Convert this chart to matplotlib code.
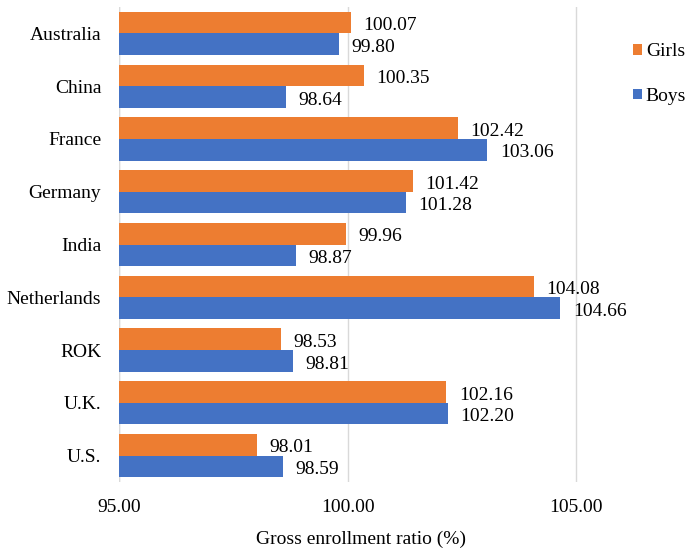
import matplotlib
matplotlib.use("Agg")
import matplotlib.pyplot as plt
import numpy as np

countries = ["Australia", "China", "France", "Germany", "India",
             "Netherlands", "ROK", "U.K.", "U.S."]
girls = [100.07, 100.35, 102.42, 101.42, 99.96, 104.08, 98.53, 102.16, 98.01]
boys = [99.80, 98.64, 103.06, 101.28, 98.87, 104.66, 98.81, 102.20, 98.59]
x_ticks = [95, 100, 105]

GIRLS_COLOR = "#ED7D31"
BOYS_COLOR = "#4472C4"

plt.rcParams["font.family"] = ["Liberation Serif", "DejaVu Serif"]
plt.rcParams["font.size"] = 14

fig = plt.figure(figsize=(6.87, 5.51), dpi=100)
left, right = 119.4 / 687, 602 / 687
ax = fig.add_axes([left, 0.1252, right - left, 0.9873 - 0.1252])

base = 95.0
y = np.arange(len(countries))
h = 0.41

g_bars = ax.barh(y - h / 2, np.array(girls) - base, height=h, left=base,
                 color=GIRLS_COLOR, label="Girls", zorder=2)
b_bars = ax.barh(y + h / 2, np.array(boys) - base, height=h, left=base,
                 color=BOYS_COLOR, label="Boys", zorder=2)

for bars, vals in ((g_bars, girls), (b_bars, boys)):
    for bar, v in zip(bars, vals):
        ax.annotate(f"{v:.2f}", xy=(v, bar.get_y() + bar.get_height() / 2 + 0.06),
                    xytext=(9, 0), textcoords="offset points",
                    ha="left", va="center", fontsize=14, color="#000000",
                    annotation_clip=False)

ax.set_xlim(95, 105.57)
ax.set_ylim(len(countries) - 0.5, -0.5)
ax.set_xticks(x_ticks)
ax.set_xticklabels([f"{t:.2f}" for t in x_ticks])
ax.set_yticks(y)
ax.set_yticklabels(countries)
ax.tick_params(axis="both", length=0, colors="#000000", labelsize=14)
ax.tick_params(axis="x", pad=12)
ax.tick_params(axis="y", pad=13)

ax.grid(axis="x", color="#d9d9d9", linewidth=1.0, zorder=0)
for s in ("top", "right", "bottom", "left"):
    ax.spines[s].set_visible(False)
ax.axvline(95, color="#d9d9d9", linewidth=1.0, zorder=1)

ax.set_xlabel("Gross enrollment ratio (%)", fontsize=14, labelpad=10.5)

fig.legend(handles=[g_bars, b_bars], labels=["Girls", "Boys"],
           loc="center left", bbox_to_anchor=(633 / 687, 1 - 74 / 551),
           frameon=False, borderpad=0, borderaxespad=0,
           handlelength=0.46, handleheight=0.46, handletextpad=0.2,
           labelspacing=1.42, fontsize=14)

fig.savefig("out.png", dpi=100)
